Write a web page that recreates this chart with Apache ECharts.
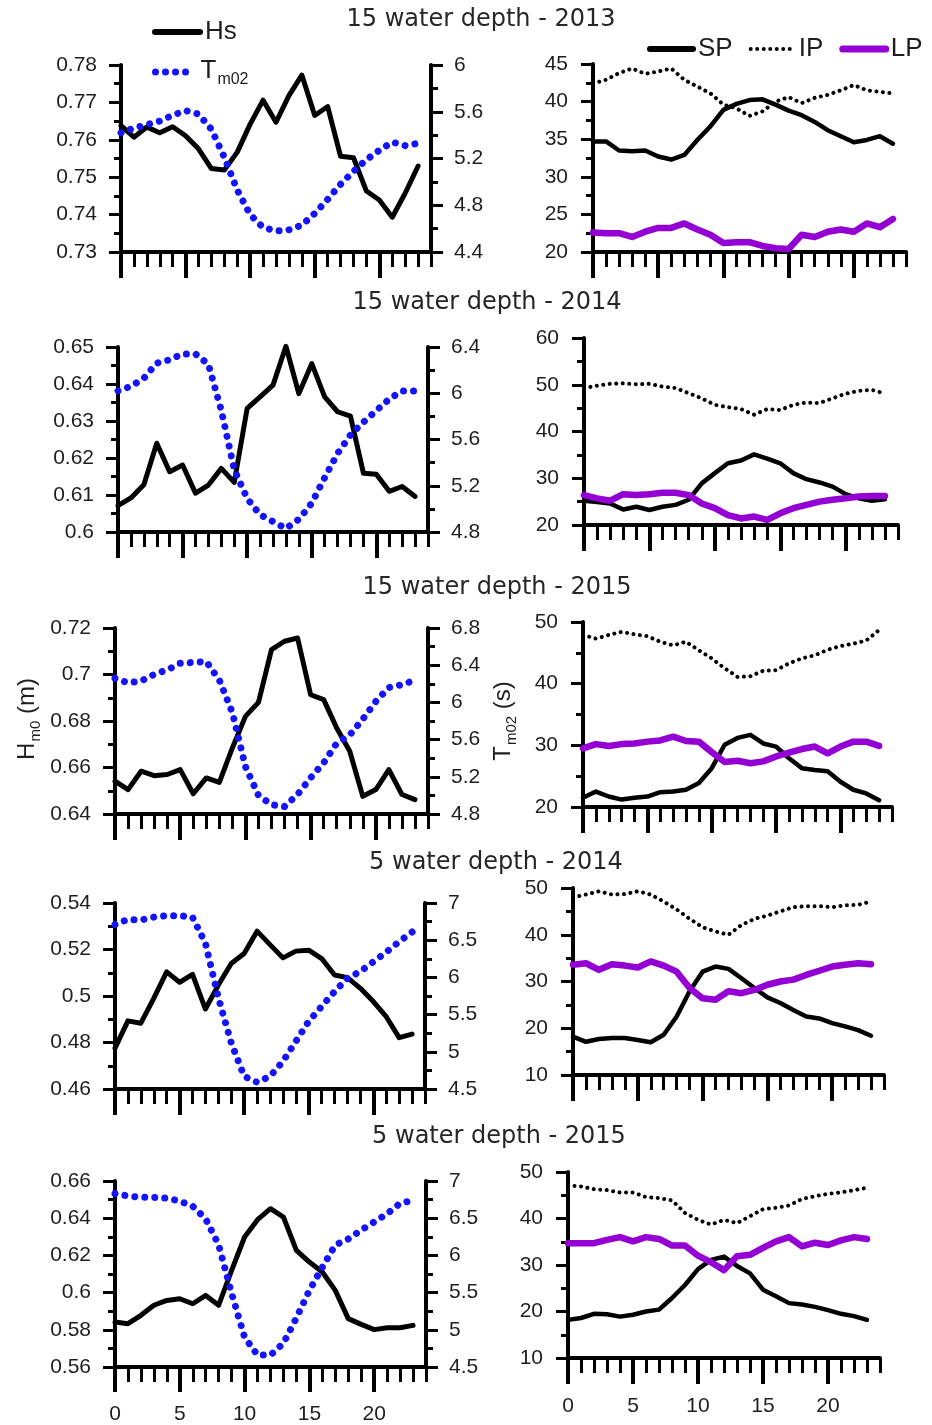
<!DOCTYPE html>
<html><head><meta charset="utf-8">
<script src="https://cdn.jsdelivr.net/npm/echarts@6/dist/echarts.min.js"></script>
<style>html,body{margin:0;padding:0;background:#fff}#c{width:932px;height:1425px}</style>
</head><body><div id="c"></div>
<script>
// ---------- data ----------
const hours = [0,1,2,3,4,5,6,7,8,9,10,11,12,13,14,15,16,17,18,19,20,21,22,23];
const xTickLabels = [0,5,10,15,20];
const titles = ['15 water depth - 2013','15 water depth - 2014','15 water depth - 2015','5 water depth - 2014','5 water depth - 2015'];

// left panels: Hs (m) and Tm02 (s)
const hs_15_2013 = [0.7638,0.7607,0.7634,0.7619,0.7635,0.7611,0.7576,0.7523,0.7519,0.7567,0.7642,0.7706,0.7647,0.7718,0.7773,0.7665,0.7689,0.7556,0.7552,0.7463,0.7439,0.7393,0.7457,0.7530];
const tm_15_2013 = [5.42,5.46,5.49,5.52,5.57,5.61,5.58,5.45,5.21,4.93,4.72,4.61,4.58,4.59,4.63,4.73,4.85,4.98,5.09,5.19,5.27,5.34,5.31,5.33];
const hs_15_2014 = [0.6071,0.6092,0.6128,0.6240,0.6163,0.6181,0.6105,0.6127,0.6172,0.6134,0.6334,0.6365,0.6397,0.6502,0.6374,0.6455,0.6365,0.6325,0.6313,0.6159,0.6156,0.6110,0.6123,0.6096];
const tm_15_2014 = [6.02,6.06,6.13,6.26,6.29,6.34,6.34,6.25,5.85,5.34,5.09,4.95,4.89,4.83,4.91,5.05,5.27,5.48,5.64,5.75,5.85,5.95,6.02,6.02];
const hs_15_2015 = [0.6541,0.6505,0.6584,0.6565,0.6570,0.6591,0.6487,0.6555,0.6536,0.6684,0.6820,0.6880,0.7107,0.7143,0.7157,0.6913,0.6892,0.6770,0.6670,0.6476,0.6505,0.6591,0.6484,0.6462];
const tm_15_2015 = [6.26,6.21,6.23,6.30,6.35,6.42,6.43,6.44,6.24,5.89,5.31,5.00,4.90,4.88,5.01,5.19,5.35,5.56,5.65,5.82,6.01,6.16,6.19,6.24];
const hs_5_2014 = [0.4776,0.4893,0.4883,0.4990,0.5104,0.5059,0.5093,0.4944,0.5047,0.5140,0.5183,0.5279,0.5221,0.5164,0.5193,0.5197,0.5161,0.5090,0.5079,0.5033,0.4976,0.4911,0.4821,0.4836];
const tm_5_2014 = [6.71,6.78,6.77,6.81,6.83,6.83,6.81,6.46,5.73,5.12,4.67,4.59,4.67,4.87,5.14,5.41,5.61,5.81,5.99,6.08,6.21,6.34,6.48,6.61];
const hs_5_2015 = [0.5842,0.5833,0.5878,0.5932,0.5958,0.5967,0.5940,0.5985,0.5932,0.6120,0.6299,0.6392,0.6451,0.6406,0.6227,0.6164,0.6111,0.6012,0.5860,0.5829,0.5801,0.5811,0.5811,0.5824];
const tm_5_2015 = [6.83,6.80,6.78,6.78,6.77,6.73,6.66,6.49,6.14,5.49,4.90,4.66,4.66,4.82,5.16,5.53,5.84,6.14,6.22,6.34,6.45,6.56,6.70,6.74];

// right panels: SP, IP, LP
const sp_15_2013 = [34.7,34.7,33.5,33.4,33.5,32.7,32.3,32.9,34.9,36.7,38.9,39.7,40.2,40.3,39.6,38.8,38.2,37.3,36.2,35.4,34.6,34.9,35.4,34.4];
const ip_15_2013 = [42.4,42.9,43.8,44.4,43.7,44.0,44.4,42.9,42.0,41.1,39.6,39.1,38.1,38.7,40.0,40.6,39.8,40.5,40.9,41.5,42.2,41.5,41.3,41.1];
const lp_15_2013 = [22.6,22.5,22.5,22.0,22.7,23.2,23.2,23.8,23.0,22.3,21.2,21.3,21.3,20.8,20.5,20.4,22.3,22.0,22.7,23.0,22.7,23.8,23.3,24.4];
const sp_15_2014 = [25.2,24.9,24.6,23.3,23.9,23.2,23.9,24.3,25.4,28.9,31.1,33.2,33.8,35.1,34.2,33.2,31.1,29.8,29.1,28.2,26.6,25.7,25.2,25.5];
const ip_15_2014 = [49.3,49.8,50.2,50.3,50.1,50.2,49.6,49.3,48.2,47.1,45.7,45.2,44.8,43.6,44.8,44.6,45.7,46.2,46.1,47.1,48.1,48.7,48.9,48.1];
const lp_15_2014 = [26.4,25.7,25.2,26.6,26.4,26.6,26.9,26.9,26.4,24.6,23.6,22.1,21.4,21.8,21.1,22.5,23.6,24.3,25.0,25.4,25.7,26.1,26.2,26.2];
const sp_15_2015 = [21.5,22.5,21.7,21.2,21.5,21.7,22.4,22.5,22.8,23.9,26.3,30.1,31.2,31.7,30.3,29.8,27.9,26.3,26.0,25.8,24.1,22.8,22.2,21.1];
const ip_15_2015 = [47.9,47.3,47.9,48.4,48.0,47.7,46.8,46.2,46.8,45.4,44.1,42.5,41.1,41.2,42.1,42.2,43.3,44.1,44.6,45.5,46.1,46.5,47.0,48.7];
const lp_15_2015 = [29.5,30.2,29.9,30.2,30.3,30.6,30.8,31.4,30.7,30.6,28.9,27.3,27.5,27.1,27.4,28.2,28.8,29.4,29.8,28.7,29.8,30.6,30.6,29.9];
const sp_5_2014 = [18.2,17.1,17.7,17.9,17.9,17.5,17.0,18.6,22.5,27.9,32.1,33.2,32.7,30.7,28.6,26.6,25.4,23.9,22.5,22.1,21.1,20.4,19.6,18.4];
const ip_5_2014 = [48.0,48.6,49.3,48.6,48.7,49.3,48.6,47.1,45.4,43.4,41.6,40.7,40.0,42.1,43.4,44.1,45.0,45.9,46.1,46.1,45.9,46.3,46.4,47.1];
const lp_5_2014 = [33.6,33.9,32.5,33.7,33.4,33.0,34.3,33.4,32.1,28.6,26.4,26.1,27.9,27.5,28.2,29.3,30.0,30.4,31.4,32.3,33.2,33.6,33.9,33.7];
const sp_5_2015 = [18.2,18.6,19.5,19.4,18.9,19.3,20.0,20.4,22.9,25.7,29.1,31.1,31.8,29.8,28.2,24.7,23.3,21.8,21.5,21.0,20.3,19.5,19.0,18.2];
const ip_5_2015 = [47.1,46.9,46.3,46.1,45.6,45.6,44.6,44.4,43.9,41.2,39.7,38.7,39.7,39.0,40.5,42.0,42.3,42.8,44.2,44.8,45.3,45.6,46.1,46.6];
const lp_5_2015 = [34.7,34.7,34.7,35.4,36.0,35.1,36.0,35.6,34.2,34.2,32.0,30.6,28.9,31.9,32.2,33.7,35.1,36.0,34.0,34.8,34.3,35.3,36.0,35.6];

// axis ranges [min, max, interval]
const hsRanges = [[0.73,0.78,0.01],[0.60,0.65,0.01],[0.64,0.72,0.02],[0.46,0.54,0.02],[0.56,0.66,0.02]];
const tmRanges = [[4.4,6,0.4],[4.8,6.4,0.4],[4.8,6.8,0.4],[4.5,7,0.5],[4.5,7,0.5]];
const compRanges = [[20,45,5],[20,60,10],[20,50,10],[10,50,10],[10,50,10]];

const hsRows = [hs_15_2013, hs_15_2014, hs_15_2015, hs_5_2014, hs_5_2015];
const tmRows = [tm_15_2013, tm_15_2014, tm_15_2015, tm_5_2014, tm_5_2015];
const spRows = [sp_15_2013, sp_15_2014, sp_15_2015, sp_5_2014, sp_5_2015];
const ipRows = [ip_15_2013, ip_15_2014, ip_15_2015, ip_5_2014, ip_5_2015];
const lpRows = [lp_15_2013, lp_15_2014, lp_15_2015, lp_5_2014, lp_5_2015];

// ---------- layout ----------
const layoutLeft = [[121,65,310,187],[118,347,310,185],[115,628,313,186],[115,903,310,186],[115,1181,311,186]];
const layoutRight = [[593,64,313,188],[584,338,314,187],[583,622,309,185],[573,888,311,187],[568,1172,312,186]];
const titlePos = [[481,20],[487,303],[497,588],[496,863],[499,1137]];

const FONT = '"Liberation Sans", Arial, sans-serif';
const TFONT = '"DejaVu Sans", sans-serif';
const TXT = '#1e1e1e';
const BLUE = '#1414f8';
const PURPLE = '#9400d3';

const grid = [], xAxis = [], yAxis = [], series = [];

function pairs(arr){ return hours.map((h,i)=>[h, arr[i]]); }

function addPanel(rect, isBottom, yDefs) {
  const g = grid.length;
  grid.push({left:rect[0], top:rect[1], width:rect[2], height:rect[3]});
  grid.push({left:rect[0], top:rect[1], width:rect[2], height:rect[3]});
  xAxis.push({gridIndex:g, type:'value', min:0, max:24, interval:1,
    axisLine:{show:true, onZero:false, lineStyle:{color:'#000', width:4}},
    axisTick:{show:true, length:15, lineStyle:{color:'#000', width:3}},
    axisLabel:{show:false}, splitLine:{show:false}});
  xAxis.push({gridIndex:g+1, type:'value', min:0, max:24,
    axisLine:{show:false, onZero:false},
    axisTick:{show:true, customValues:xTickLabels, length:26, lineStyle:{color:'#000', width:4}},
    axisLabel:{show:isBottom, customValues:xTickLabels, margin:38, fontSize:21, color:TXT, fontFamily:FONT},
    splitLine:{show:false}});
  const idx = [];
  yDefs.forEach(d => {
    idx.push(yAxis.length);
    yAxis.push({gridIndex:g, type:'value', position:d.pos, min:d.r[0], max:d.r[1], interval:d.r[2],
      axisLine:{show:true, onZero:false, lineStyle:{color:'#000', width:4}},
      axisTick:{show:true, length:12, lineStyle:{color:'#000', width:3}},
      minorTick:{show:true, splitNumber:2, length:7, lineStyle:{color:'#000', width:3}},
      axisLabel:{margin:d.m, fontSize:21, color:TXT, fontFamily:FONT},
      splitLine:{show:false}, minorSplitLine:{show:false}});
  });
  yAxis.push({gridIndex:g+1, type:'value', show:false, min:0, max:1});
  return {x:xAxis.length-2, y:idx};
}

for (let r = 0; r < 5; r++) {
  const bottom = r === 4;
  const L = addPanel(layoutLeft[r], bottom, [{pos:'left', r:hsRanges[r], m:24},{pos:'right', r:tmRanges[r], m:23}]);
  series.push({name:'Hs', type:'line', xAxisIndex:L.x, yAxisIndex:L.y[0], data:pairs(hsRows[r]),
    symbol:'none', clip:false, lineStyle:{color:'#000', width:5, join:'round', cap:'round'}, itemStyle:{color:'#000'}});
  series.push({name:'T_m02', type:'line', xAxisIndex:L.x, yAxisIndex:L.y[1], data:pairs(tmRows[r]),
    symbol:'none', clip:false, lineStyle:{color:BLUE, width:7, type:[0.01,10], cap:'round', join:'round'}, itemStyle:{color:BLUE}});
  const R = addPanel(layoutRight[r], bottom, [{pos:'left', r:compRanges[r], m:25}]);
  series.push({name:'SP', type:'line', xAxisIndex:R.x, yAxisIndex:R.y[0], data:pairs(spRows[r]),
    symbol:'none', clip:false, lineStyle:{color:'#000', width:4.5, join:'round', cap:'round'}, itemStyle:{color:'#000'}});
  series.push({name:'IP', type:'line', xAxisIndex:R.x, yAxisIndex:R.y[0], data:pairs(ipRows[r]),
    symbol:'none', clip:false, lineStyle:{color:'#000', width:4, type:[0.01,6.5], cap:'round', join:'round'}, itemStyle:{color:'#000'}});
  series.push({name:'LP', type:'line', xAxisIndex:R.x, yAxisIndex:R.y[0], data:pairs(lpRows[r]),
    symbol:'none', clip:false, lineStyle:{color:PURPLE, width:6.5, join:'round', cap:'round'}, itemStyle:{color:PURPLE}});
}

const legendText = {fontSize:26, color:TXT, fontFamily:FONT,
  rich:{t:{fontSize:26, color:TXT, fontFamily:FONT, lineHeight:28, verticalAlign:'top'},
        s:{fontSize:16, color:TXT, fontFamily:FONT, lineHeight:17, padding:[14,0,0,1], verticalAlign:'top'}}};
const noSym = {opacity:0, color:'rgba(0,0,0,0)', borderWidth:0};

const legend = [
  {left:147, top:14, itemWidth:45, itemHeight:14, selectedMode:false, textStyle:legendText,
   data:[{name:'Hs', itemStyle:noSym, lineStyle:{width:6, color:'#000', cap:'round'}}]},
  {left:147, top:53, itemWidth:40, itemHeight:14, selectedMode:false, textStyle:legendText,
   formatter: n => '{t|T}{s|m02}',
   data:[{name:'T_m02', itemStyle:noSym, lineStyle:{width:7, color:BLUE}}]},
  {left:642, top:31, itemWidth:43, itemHeight:14, itemGap:16, selectedMode:false, textStyle:legendText,
   data:[{name:'SP', itemStyle:noSym, lineStyle:{width:6, color:'#000', cap:'round'}},
         {name:'IP', itemStyle:noSym, lineStyle:{width:4, color:'#000'}},
         {name:'LP', itemStyle:noSym, lineStyle:{width:7, color:PURPLE, cap:'round'}}]}
];

const graphic = [];
titles.forEach((t,i) => {
  graphic.push({type:'text', x:titlePos[i][0], y:titlePos[i][1],
    style:{text:t, fontSize:24, fontFamily:TFONT, fill:'#262626', align:'center', verticalAlign:'middle'}});
});
const axisRich = {
  a:{fontSize:24, fontFamily:FONT, fill:TXT, lineHeight:26, verticalAlign:'top'},
  b:{fontSize:15, fontFamily:FONT, fill:TXT, lineHeight:16, padding:[13,0,0,1], verticalAlign:'top'}
};
graphic.push({type:'text', x:28, y:719, rotation:Math.PI/2,
  style:{text:'{a|H}{b|m0}{a| (m)}', rich:axisRich, align:'center', verticalAlign:'middle', fill:TXT}});
graphic.push({type:'text', x:504, y:721, rotation:Math.PI/2,
  style:{text:'{a|T}{b|m02}{a| (s)}', rich:axisRich, align:'center', verticalAlign:'middle', fill:TXT}});

const chart = echarts.init(document.getElementById('c'), null, {renderer:'canvas'});
chart.setOption({animation:false, backgroundColor:'#fff', grid, xAxis, yAxis, series, legend, graphic});
</script></body></html>
